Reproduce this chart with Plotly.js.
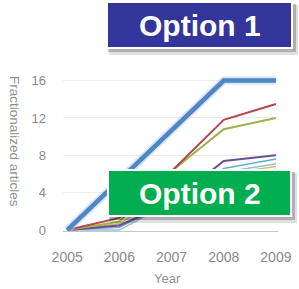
<!DOCTYPE html>
<html><head><meta charset="utf-8">
<script src="https://cdn.plot.ly/plotly-3.0.1.min.js"></script>
<style>html,body{margin:0;padding:0;background:#fff}#chart{width:299px;height:289px}</style>
</head><body><div id="chart"></div>
<script>
const years = [2005, 2006, 2007, 2008, 2009];
const seriesBlue = [0, 5.3, 10.7, 16, 16];
const seriesRed = [0, 1.3, 6.3, 11.8, 13.5];
const seriesGreen = [0, 0.9, 6.3, 10.8, 12.0];
const seriesPurple = [0, 0.5, 3.0, 7.4, 8.0];
const seriesTeal = [0, 0.3, 3.0, 6.6, 7.6];
const seriesLightBlue = [0, 0, 3.0, 6.2, 7.1];
const seriesOrange = [0, 0.6, 2.5, 5.5, 6.5];
const seriesOlive = [0, 0.7, 4.0, 6.0, 6.8];
const yTicks = [0, 4, 8, 12, 16];
const labelOption1 = "Option 1";
const labelOption2 = "Option 2";
const xTitle = "Year";
const yTitle = "Fractionalized articles";

function line(y, color, width, opacity) {
  return {x: years, y: y, type: 'scatter', mode: 'lines',
    line: {color: color, width: width}, opacity: opacity || 1, hoverinfo: 'skip'};
}
const traces = [
  line(seriesOlive, '#c9bd5a', 1.5, 0.9),
  line(seriesOrange, '#e0a060', 1.5, 0.9),
  line(seriesLightBlue, '#8db4e0', 1.5, 0.9),
  line(seriesTeal, '#5aa6b8', 1.5, 0.9),
  line(seriesPurple, '#6b4f98', 2),
  line(seriesGreen, '#98b648', 2),
  line(seriesRed, '#b8454c', 2),
  line(seriesBlue, '#b3cdea', 8, 0.55),
  line(seriesBlue, '#5086c6', 4.5)
];

// pixel helpers for overlay boxes
const L = 63, R = 278, T = 75, B = 231;
const px = v => (v - L) / (R - L);
const py = v => (B - v) / (B - T);

function box(x0, y0, x1, y1, color) {
  return [
    {type: 'rect', xref: 'paper', yref: 'paper', layer: 'above',
      x0: px(x0 + 2), x1: px(x1 + 6), y0: py(y1 + 7), y1: py(y0 + 3),
      fillcolor: 'rgba(0,0,0,0.12)', line: {width: 0}},
    {type: 'rect', xref: 'paper', yref: 'paper', layer: 'above',
      x0: px(x0 + 1), x1: px(x1 + 4), y0: py(y1 + 4), y1: py(y0 + 2),
      fillcolor: 'rgba(0,0,0,0.22)', line: {width: 0}},
    {type: 'rect', xref: 'paper', yref: 'paper', layer: 'above',
      x0: px(x0), x1: px(x1), y0: py(y1), y1: py(y0),
      fillcolor: color, line: {color: '#ffffff', width: 2}}
  ];
}
const shapes = [].concat(
  box(107, 2, 292, 48, '#34359a'),
  box(108, 170, 291, 216, '#00ae4f')
);

const family = 'Liberation Sans, Arial, sans-serif';
const annFont = {family: family, size: 30, color: '#ffffff', weight: 'bold'};
const titleFont = {family: family, size: 13.5, color: '#909090'};
const annotations = [
  {text: '<b>' + labelOption1 + '</b>', xref: 'paper', yref: 'paper', x: px(199.5), y: py(25),
    xanchor: 'center', yanchor: 'middle', showarrow: false, font: annFont},
  {text: '<b>' + labelOption2 + '</b>', xref: 'paper', yref: 'paper', x: px(199.5), y: py(193),
    xanchor: 'center', yanchor: 'middle', showarrow: false, font: annFont},
  {text: xTitle, xref: 'paper', yref: 'paper', x: px(167), y: py(288),
    xanchor: 'center', yanchor: 'bottom', showarrow: false, font: {family: family, size: 13, color: '#909090'}},
  {text: yTitle, xref: 'paper', yref: 'paper', x: px(15), y: py(141), textangle: 90,
    xanchor: 'center', yanchor: 'middle', showarrow: false, font: titleFont}
];

const tickFont = {family: family, size: 13, color: '#8a8a8a'};
const layout = {
  width: 299, height: 289,
  margin: {l: L, r: 299 - R, t: T, b: 289 - B},
  paper_bgcolor: '#ffffff', plot_bgcolor: '#ffffff',
  showlegend: false,
  xaxis: {range: [2004.92, 2009.04], tickvals: years, ticktext: years.map(String),
    showgrid: false, zeroline: false, showline: true, linecolor: '#c8c8c8', linewidth: 1,
    ticks: '', tickfont: {family: family, size: 14, color: '#8a8a8a'},
    ticklabelstandoff: 13},
  yaxis: {range: [-0.1, 16.6], tickvals: yTicks, ticktext: yTicks.map(String),
    showgrid: true, gridcolor: '#ececec', gridwidth: 1, zeroline: false, showline: false,
    ticks: '', tickfont: tickFont, ticklabelstandoff: 16},
  shapes: shapes,
  annotations: annotations
};
Plotly.newPlot('chart', traces, layout, {staticPlot: true, displayModeBar: false});
</script></body></html>
